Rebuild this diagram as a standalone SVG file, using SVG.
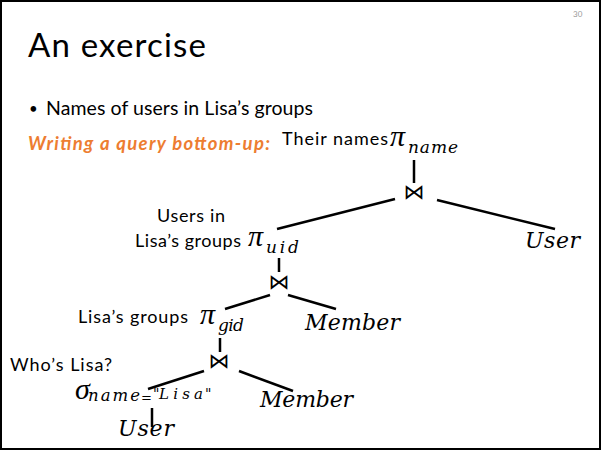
<svg xmlns="http://www.w3.org/2000/svg" width="602" height="452" viewBox="0 0 602 452">
<style>
.s{font-family:Lato,"Liberation Sans",sans-serif;fill:#000}
.m{font-family:"DejaVu Serif","Liberation Serif",serif;font-style:italic;fill:#000}
.p{font-family:"Liberation Serif","DejaVu Serif",serif;font-style:italic;fill:#000;font-size:30px}
.u{font-family:"DejaVu Serif","Liberation Serif",serif;font-style:normal}
.e{stroke:#000;stroke-width:2.5;fill:none}
.j{font-family:"DejaVu Sans",sans-serif;font-size:21px;text-anchor:middle;fill:#000}
</style>
<rect x="1" y="1" width="599" height="448" fill="#fff" stroke="#000" stroke-width="2"/>
<text x="573" y="17" font-family="Lato,'Liberation Sans',sans-serif" font-size="8" fill="#999">30</text>
<text class="s" x="28" y="57" font-size="33" textLength="178">An exercise</text>
<text class="s" x="29" y="114" font-size="15">•</text>
<text class="s" x="46" y="115" font-size="19.5" textLength="267">Names of users in Lisa’s groups</text>
<text x="28" y="150" font-family="Lato,'Liberation Sans',sans-serif" font-size="18.5" font-weight="bold" font-style="italic" fill="#ED7D31" textLength="242">Writing a query bottom-up:</text>

<g id="labels">
<text class="s" x="282" y="145" font-size="18" textLength="106">Their names</text>
<text class="s" x="157" y="222" font-size="18" textLength="68">Users in</text>
<text class="s" x="135" y="247" font-size="18" textLength="106">Lisa’s groups</text>
<text class="s" x="78" y="323" font-size="18" textLength="110">Lisa’s groups</text>
<text class="s" x="10" y="371" font-size="18" textLength="102">Who’s Lisa?</text>
</g>

<g id="connectors">
<line class="e" x1="414" y1="160" x2="414" y2="183"/>
<line class="e" x1="395" y1="199" x2="277" y2="229"/>
<line class="e" x1="437" y1="200" x2="555" y2="229"/>
<line class="e" x1="279" y1="258" x2="279" y2="272"/>
<line class="e" x1="270" y1="295" x2="225" y2="309"/>
<line class="e" x1="288" y1="295" x2="336" y2="309"/>
<line class="e" x1="220" y1="338" x2="220" y2="352"/>
<line class="e" x1="204" y1="371" x2="148" y2="389"/>
<line class="e" x1="239" y1="371" x2="293" y2="391"/>
<line class="e" x1="152" y1="408" x2="152" y2="427"/>
</g>

<g id="pi-name">
<text class="p" x="390" y="146">π</text>
<text class="m" x="408" y="153" font-size="17" textLength="50">name</text>
</g>
<g id="join1"><text class="j" x="414" y="199">⋈</text></g>
<g id="user1"><text class="m" x="525" y="248" font-size="22" textLength="55">User</text></g>
<g id="pi-uid">
<text class="p" x="248" y="246">π</text>
<text class="m" x="266" y="253" font-size="17" textLength="33">uid</text>
</g>
<g id="join2"><text class="j" x="279" y="289">⋈</text></g>
<g id="member1"><text class="m" x="305" y="330" font-size="22" textLength="95">Member</text></g>
<g id="pi-gid">
<text class="p" x="200" y="324">π</text>
<text class="m" x="218" y="331" font-size="17" textLength="26">gid</text>
</g>
<g id="join3"><text class="j" x="219" y="368">⋈</text></g>
<g id="sigma">
<text class="p" x="75" y="399" font-size="24">σ</text>
<text class="m" x="88" y="401" font-size="16.5" textLength="52">name</text>
<text class="u" x="141" y="402" font-size="13">=</text>
<text class="u" x="153" y="399" font-size="14">"</text>
<text class="m" x="159" y="399" font-size="15" textLength="44">Lisa</text>
<text class="u" x="205" y="399" font-size="14">"</text>
</g>
<g id="member2"><text class="m" x="260" y="407" font-size="22" textLength="93">Member</text></g>
<g id="user2"><text class="m" x="118" y="436" font-size="22" textLength="56">User</text></g>
</svg>
